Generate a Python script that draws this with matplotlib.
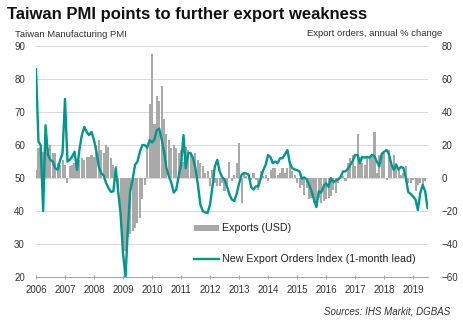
import matplotlib
matplotlib.use('Agg')
import matplotlib.pyplot as plt
import pandas as pd

plt.rcParams['font.family'] = ['Liberation Sans', 'DejaVu Sans']

# 出口年增率 (USD, %), 2006-01 起每月
exports_usd = [
    5, 18, 19, 16, 19, 18, 20, 15, 15, 9, 8, 11,           # 2006
    8, -3, 7, 8, 9, 8, 11, 12, 11, 13, 13, 14,             # 2007
    13, 20, 23, 17, 15, 20, 19, 12, 8, 7, -10, -24,        # 2008
    -42, -44, -36, -34, -32, -30, -27, -24, -13, -4, 19, 45,  # 2009
    75, 33, 50, 47, 56, 36, 27, 23, 18, 20, 18, 15,        # 2010
    17, 10, 19, 17, 14, 12, 15, 11, 9, 7, 3, 4,            # 2011
    -5, 5, -3, -5, -5, -3, -8, -4, 10, -2, 2, 9,           # 2012
    21, -15, 3, 1, 1, -1, 3, -1, -7, 4, 1, 2,              # 2013
    -2, 5, 6, 6, 2, 3, 6, 3, 6, 10, 4, 2,                  # 2014
    -3, -6, -4, -10, -6, -13, -12, -15, -16, -12, -15, -14,  # 2015
    -13, -12, -11, -7, -9, -3, 1, 1, -2, 9, 12, 14,        # 2016
    7, 27, 13, 9, 8, 13, 12, 13, 28, 3, 14, 15,            # 2017
    15, -1, 17, 10, 14, 9, 5, 2, 3, 7, -3, -3,             # 2018
    -1, -8, -4, -3, -5, -2,                                # 2019
]

# 新出口訂單指數 (領先一個月), 2006-01 起每月
new_export_orders = [
    83, 61, 60, 40, 66, 57, 55.5, 55, 53, 52.5, 55.5, 57.5,          # 2006
    74, 55, 55.5, 56.5, 58, 52.5, 58.5, 63, 65.5, 64, 63, 64,        # 2007
    61.5, 58, 53.5, 51.5, 50.8, 48.5, 47, 45.8, 46, 53, 46, 39,      # 2008
    27, 20, 34, 46, 49.6, 54, 55, 58, 60, 60, 59.2, 61.5,            # 2009
    60.8, 61.8, 64.5, 65, 61.8, 58, 53, 50.5, 48.5, 45.6, 46.5, 50.5,  # 2010
    54, 63, 53, 57.5, 57.6, 56, 53, 48, 42, 40, 39.6, 39.4,          # 2011
    42, 47.5, 53.5, 55.5, 52, 50.3, 49.5, 47.5, 45, 43.5, 43, 45.2,  # 2012
    48.4, 51, 51.5, 51.4, 51, 47.3, 46.5, 47.5, 47.5, 50, 52.4, 54,  # 2013
    57, 56.3, 54.5, 55, 54.5, 56, 56, 57.2, 58.5, 54.5, 53, 52.6,    # 2014
    52.4, 52, 49.8, 50.2, 49.6, 48, 46, 43.5, 41.2, 46, 45.6, 47.5,  # 2015
    48.4, 47.3, 50, 48.8, 49.2, 49.6, 50.3, 52, 52, 52.8, 54, 55.2,  # 2016
    57, 57, 54.5, 56.4, 56.2, 56.4, 56.2, 57, 56.6, 55, 53.5, 57.3,  # 2017
    58, 58.5, 57.3, 54.3, 52.5, 54, 52.6, 53.4, 53, 50, 45.7, 45.2,  # 2018
    44.4, 43.4, 40.3, 45.5, 47.9, 46, 40.9,                          # 2019
]

years = list(range(2006, 2020))

exp_dates = pd.date_range('2006-01-01', periods=len(exports_usd), freq='MS')
pmi_dates = pd.date_range('2006-01-01', periods=len(new_export_orders), freq='MS')

fig = plt.figure(figsize=(4.64, 3.22), dpi=100)
ax = fig.add_axes([0.0776, 0.1398, 0.845, 0.717])
ax2 = ax.twinx()
ax.set_zorder(ax2.get_zorder() + 1)
ax.patch.set_visible(False)

# 柱狀: 出口 (右軸)
bars = ax2.bar(exp_dates, exports_usd, width=26, color='#a9a9a9', linewidth=0)
# 折線: PMI (左軸)
line, = ax.plot(pmi_dates, new_export_orders, color='#00968a', lw=1.7)

ax.set_ylim(20, 90)
ax2.set_ylim(-60, 80)
ax.set_yticks(range(20, 91, 10))
ax2.set_yticks(range(-60, 81, 20))
ax2.yaxis.grid(True, color='#d9d9d9', lw=0.7)
ax2.set_axisbelow(True)

ax.set_xlim(pd.Timestamp('2006-01-01'), pd.Timestamp('2019-07-08'))
ax.set_xticks([pd.Timestamp(f'{y}-01-01') for y in years])
ax.set_xticklabels([str(y) for y in years])

for a in (ax, ax2):
    for s in ('top', 'left', 'right'):
        a.spines[s].set_visible(False)
    a.spines['bottom'].set_color('#a6a6a6')
ax2.spines['bottom'].set_visible(False)

ax.tick_params(axis='y', length=0, pad=8, labelsize=7, labelcolor='#333333')
ax2.tick_params(axis='y', length=0, pad=10, labelsize=7, labelcolor='#333333')
ax.tick_params(axis='x', direction='inout', length=3, color='#a6a6a6',
               pad=4, labelsize=7, labelcolor='#333333')

fig.legend([bars, line], ['Exports (USD)', 'New Export Orders Index (1-month lead)'],
           loc='upper left', bbox_to_anchor=(0.418, 0.306), frameon=False,
           fontsize=7.7, handlelength=2.3, handleheight=0.5, handletextpad=0.3,
           labelspacing=1.95, borderpad=0, borderaxespad=0, labelcolor='#222222')

fig.text(0.015, 1 - 19 / 322, 'Taiwan PMI points to further export weakness',
         fontsize=12, fontweight='bold', va='baseline', color='#111111')
fig.text(15 / 464, 1 - 37 / 322, 'Taiwan Manufacturing PMI',
         fontsize=6.8, va='baseline', color='#333333')
fig.text(442 / 464, 1 - 36 / 322, 'Export orders, annual % change',
         fontsize=6.8, va='baseline', ha='right', color='#333333')
fig.text(450 / 464, 1 - 314 / 322, 'Sources: IHS Markit, DGBAS',
         fontsize=7, style='italic', va='baseline', ha='right', color='#333333')

fig.savefig('out.png', dpi=100)
